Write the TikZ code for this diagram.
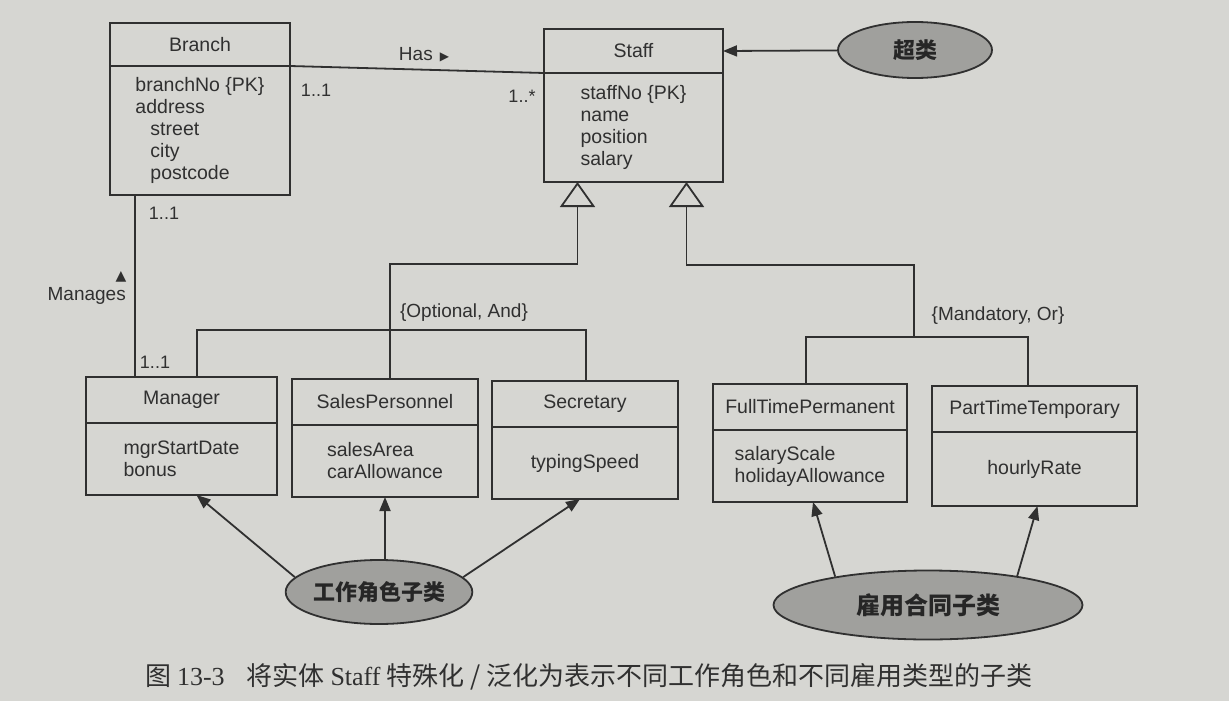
\documentclass[tikz,border=0pt]{standalone}
\usepackage{fontspec}
\setmainfont{Liberation Sans}
\newfontfamily\cjk{Noto Sans CJK SC}
\newfontfamily\symf{DejaVu Sans}
\newfontfamily\capserif{Liberation Serif}
\usetikzlibrary{shapes.geometric,arrows.meta}
\definecolor{paper}{RGB}{214,214,210}
\definecolor{ink}{RGB}{48,48,48}
\definecolor{blob}{RGB}{160,160,157}

\begin{document}
\begin{tikzpicture}[x=1pt, y=-1pt,
    uml/.style={draw=ink, line width=1.8pt},
    head/.style={uml, rectangle, anchor=north west, minimum height=46, inner sep=0, outer sep=0, text=ink, font=\fontsize{19.5}{22}\selectfont},
    body/.style={uml, rectangle, anchor=north, inner sep=0, outer sep=0, align=left, text=ink, font=\fontsize{19.5}{22}\selectfont},
    lbl/.style={inner sep=0, text=ink, font=\fontsize{19}{21}\selectfont},
    blobnode/.style={uml, ellipse, fill=blob, inner sep=0, text=black!85},
    gen/.style={uml, -{Triangle[length=25pt, width=35pt, fill=paper, line width=1.8pt]}},
    pointer/.style={uml, -{Triangle[length=14pt, width=11pt]}}]
    \fill[paper] (0,0) rectangle (1229,701);

    \node[head, minimum width=180, minimum height=43] (branchH) at (110,23) {Branch};
    \node[body, minimum width=180, minimum height=129] (branchA) at (branchH.south)
        {branchNo \{PK\}\\address\\\hspace*{15pt}street\\\hspace*{15pt}city\\\hspace*{15pt}postcode};
    \node[head, minimum width=179, minimum height=44] (staffH) at (544,29) {Staff};
    \node[body, minimum width=179, minimum height=109] (staffA) at (staffH.south)
        {staffNo \{PK\}\\name\\position\\salary};

    \node[head, minimum width=191] (mgrH) at (86,377) {Manager};
    \node[body, minimum width=191, minimum height=72] (mgrA) at (mgrH.south) {mgrStartDate\\bonus};
    \node[head, minimum width=186] (salesH) at (292,379) {SalesPersonnel};
    \node[body, minimum width=186, minimum height=72] (salesA) at (salesH.south) {salesArea\\carAllowance};
    \node[head, minimum width=186] (secH) at (492,381) {Secretary};
    \node[body, minimum width=186, minimum height=72] (secA) at (secH.south) {typingSpeed};
    \node[head, minimum width=194] (ftpH) at (713,384) {FullTimePermanent};
    \node[body, minimum width=194, minimum height=72] (ftpA) at (ftpH.south) {salaryScale\\holidayAllowance};
    \node[head, minimum width=205] (pttH) at (932,386) {PartTimeTemporary};
    \node[body, minimum width=205, minimum height=74] (pttA) at (pttH.south) {hourlyRate};

    \node[blobnode, minimum width=154, minimum height=56, font=\cjk\bfseries\fontsize{22}{24}\selectfont] (superC) at (915,50) {超类};
    \node[blobnode, minimum width=158, minimum height=64, font=\cjk\bfseries\fontsize{22}{24}\selectfont] (roleC) at (379,592) {工作角色子类};
    \node[blobnode, minimum width=309, minimum height=69, font=\cjk\bfseries\fontsize{24}{26}\selectfont] (contractC) at (928,605) {雇用合同子类};

    \draw[uml] (branchH.south east) -- (staffH.south west);
    \node[lbl] (hasL) at (424,55) {Has\hspace{7pt}{\symf\fontsize{12}{12}\selectfont ▶}};
    \node[lbl, font=\fontsize{18}{20}\selectfont] (branchM) at (316,90) {1..1};
    \node[lbl, font=\fontsize{18}{20}\selectfont] (staffM) at (522,96) {1..*};

    \coordinate (mline) at (135,0);
    \draw[uml] (branchA.south -| mline) -- (mgrH.north -| mline);
    \node[lbl, font=\fontsize{18}{20}\selectfont] (branchM2) at (164,213) {1..1};
    \node[lbl, font=\symf\fontsize{14}{14}\selectfont] (managesT) at (121,277) {▲};
    \node[lbl, anchor=east] (managesL) at (126,296) {Manages};
    \node[lbl, font=\fontsize{18}{20}\selectfont] (mgrM) at (155,362) {1..1};

    \coordinate (roleJ) at (390,264);
    \coordinate (roleL) at (197,330);
    \coordinate (roleR) at (586,330);
    \draw[gen] (salesH.north -| roleJ) -- (roleJ) -| ([xshift=-56]staffA.south);
    \draw[uml] (mgrH.north -| roleL) |- (roleR) -- (secH.north -| roleR);
    \node[lbl] (roleK) at (464,313) {\{Optional, And\}};

    \coordinate (empJ) at (914,265);
    \coordinate (empL) at (806,337);
    \coordinate (empR) at (1028,337);
    \draw[gen] (empJ |- empL) -- (empJ) -| ([xshift=53]staffA.south);
    \draw[uml] (ftpH.north -| empL) |- (empR) -- (pttH.north -| empR);
    \node[lbl] (empK) at (998,316) {\{Mandatory, Or\}};

    \draw[pointer] (superC) -- (staffH.east);
    \draw[pointer] (roleC.170) -- ([xshift=15]mgrA.south);
    \draw[pointer] (salesA.south |- roleC.north) -- (salesA.south);
    \draw[pointer] (roleC.10) -- ([xshift=-5]secA.south);
    \draw[pointer] (contractC.163) -- ([xshift=3]ftpA.south);
    \draw[pointer] (contractC.18) -- ([xshift=3]pttA.south);

    \node[anchor=west, inner sep=0, text=ink, font=\cjk\fontsize{26}{28}\selectfont] (caption) at (145,677)
        {图 {\capserif 13-3}\hspace{22pt}将实体 {\capserif Staff} 特殊化 / 泛化为表示不同工作角色和不同雇用类型的子类};
\end{tikzpicture}
\end{document}
